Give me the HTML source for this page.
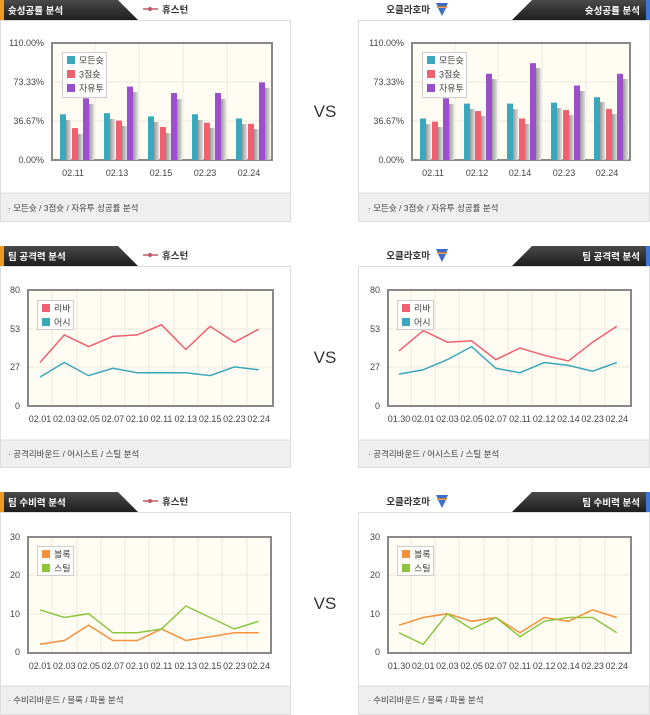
<!DOCTYPE html>
<html><head><meta charset="utf-8"><style>
html,body{margin:0;padding:0;background:#fff;}
svg{display:block;font-family:"Liberation Sans","Noto Sans CJK KR",sans-serif;}
.t{font-size:9px;fill:#444;}
.h{font-size:9.5px;fill:#fff;font-weight:bold;}
.n{font-size:9.5px;fill:#333;font-weight:bold;}
.f{font-size:8.5px;fill:#444;}
.vs{font-size:17px;fill:#333;}
.g{stroke:#ece8dc;stroke-width:1;}
</style></head><body>
<svg width="650" height="715" viewBox="0 0 650 715" xmlns="http://www.w3.org/2000/svg">
<defs>
<linearGradient id="hd" x1="0" y1="0" x2="0" y2="1"><stop offset="0" stop-color="#4a4a4a"/><stop offset="1" stop-color="#1e1e1e"/></linearGradient>
<linearGradient id="sh" x1="0" y1="0" x2="1" y2="0"><stop offset="0" stop-color="#999"/><stop offset="1" stop-color="#e0e0e0"/></linearGradient>
<g id="hleft"><polygon points="0,0 118,0 138,20 0,20" fill="url(#hd)"/><rect x="0" y="0" width="4" height="20" fill="#f29a1f"/></g>
<g id="hright"><polygon points="532,0 650,0 650,20 512,20" fill="url(#hd)"/><rect x="646" y="0" width="4" height="20" fill="#3a78d8"/></g>
<g id="hou"><line x1="143" y1="9" x2="158" y2="9" stroke="#c4546a" stroke-width="1.5"/><circle cx="150" cy="9" r="2" fill="#c4546a"/><text x="162" y="13" class="n">휴스턴</text></g>
<g id="okc"><text x="430" y="13" class="n" text-anchor="end">오클라호마</text><path d="M436,3 l12,0 l-2,4 l-8,0 z M438,8 l8,0 l-4,8 z" fill="#3a6fc8"/><path d="M437,7 l10,0" stroke="#e87a2a" stroke-width="1.5"/></g>
</defs>

<!-- ============ PANEL ROW 1 ============ -->
<use href="#hleft" x="0" y="0"/><text x="8" y="14" class="h">슛성공률 분석</text>
<use href="#hou" x="0" y="0"/>
<rect x="0.5" y="20.5" width="290" height="201" fill="#fff" stroke="#ddd"/>
<rect x="1" y="193" width="289" height="28" fill="#efefef"/><line x1="1" y1="193" x2="290" y2="193" stroke="#ddd"/>
<text x="8" y="211" class="f">· 모든슛 / 3점슛 / 자유투 성공률 분석</text>
<rect x="52" y="43" width="220" height="117" fill="#fffcf3" stroke="#888" stroke-width="2"/>
<g class="g"><line x1="95" y1="44" x2="95" y2="159"/><line x1="139" y1="44" x2="139" y2="159"/><line x1="183" y1="44" x2="183" y2="159"/><line x1="227" y1="44" x2="227" y2="159"/><line x1="53" y1="82" x2="271" y2="82"/><line x1="53" y1="121" x2="271" y2="121"/></g>
<text x="44" y="46" class="t" text-anchor="end">110.00%</text><text x="44" y="85" class="t" text-anchor="end">73.33%</text><text x="44" y="124" class="t" text-anchor="end">36.67%</text><text x="44" y="163" class="t" text-anchor="end">0.00%</text>
<g>
<rect x="66" y="120" width="5" height="40" fill="url(#sh)"/><rect x="60" y="114.3" width="6" height="45.7" fill="#3aa7bb"/>
<rect x="78" y="134" width="5" height="26" fill="url(#sh)"/><rect x="72" y="128.1" width="6" height="31.9" fill="#f0606e"/>
<rect x="89" y="104" width="5" height="56" fill="url(#sh)"/><rect x="83" y="98.3" width="6" height="61.7" fill="#9b4fcb"/>
<rect x="110" y="119" width="5" height="41" fill="url(#sh)"/><rect x="104" y="113.2" width="6" height="46.8" fill="#3aa7bb"/>
<rect x="122" y="126" width="5" height="34" fill="url(#sh)"/><rect x="116" y="120.6" width="6" height="39.4" fill="#f0606e"/>
<rect x="133" y="92" width="5" height="68" fill="url(#sh)"/><rect x="127" y="86.6" width="6" height="73.4" fill="#9b4fcb"/>
<rect x="154" y="122" width="5" height="38" fill="url(#sh)"/><rect x="148" y="116.4" width="6" height="43.6" fill="#3aa7bb"/>
<rect x="166" y="133" width="5" height="27" fill="url(#sh)"/><rect x="160" y="127" width="6" height="33" fill="#f0606e"/>
<rect x="177" y="99" width="5" height="61" fill="url(#sh)"/><rect x="171" y="93" width="6" height="67" fill="#9b4fcb"/>
<rect x="198" y="120" width="5" height="40" fill="url(#sh)"/><rect x="192" y="114.3" width="6" height="45.7" fill="#3aa7bb"/>
<rect x="210" y="128" width="5" height="32" fill="url(#sh)"/><rect x="204" y="122.8" width="6" height="37.2" fill="#f0606e"/>
<rect x="221" y="99" width="5" height="61" fill="url(#sh)"/><rect x="215" y="93" width="6" height="67" fill="#9b4fcb"/>
<rect x="242" y="124" width="5" height="36" fill="url(#sh)"/><rect x="236" y="118.5" width="6" height="41.5" fill="#3aa7bb"/>
<rect x="254" y="129" width="5" height="31" fill="url(#sh)"/><rect x="248" y="123.8" width="6" height="36.2" fill="#f0606e"/>
<rect x="265" y="88" width="5" height="72" fill="url(#sh)"/><rect x="259" y="82.4" width="6" height="77.6" fill="#9b4fcb"/>
</g>
<rect x="62.5" y="52.5" width="44" height="45" fill="#fff" fill-opacity="0.9" stroke="#ccc"/>
<rect x="67" y="56" width="8" height="8" fill="#3aa7bb"/><text x="79" y="63.5" class="t">모든슛</text>
<rect x="67" y="70" width="8" height="8" fill="#f0606e"/><text x="79" y="77.5" class="t">3점슛</text>
<rect x="67" y="84" width="8" height="8" fill="#9b4fcb"/><text x="79" y="91.5" class="t">자유투</text>
<text x="73" y="176" class="t" text-anchor="middle">02.11</text><text x="117" y="176" class="t" text-anchor="middle">02.13</text><text x="161" y="176" class="t" text-anchor="middle">02.15</text><text x="205" y="176" class="t" text-anchor="middle">02.23</text><text x="249" y="176" class="t" text-anchor="middle">02.24</text>

<text x="325" y="117" class="vs" text-anchor="middle">VS</text>

<use href="#hright" x="0" y="0"/><text x="640" y="14" class="h" text-anchor="end">슛성공률 분석</text>
<use href="#okc" x="0" y="0"/>
<rect x="358.5" y="20.5" width="291" height="201" fill="#fff" stroke="#ddd"/>
<rect x="359" y="193" width="290" height="28" fill="#efefef"/><line x1="359" y1="193" x2="649" y2="193" stroke="#ddd"/>
<text x="368" y="211" class="f">· 모든슛 / 3점슛 / 자유투 성공률 분석</text>
<rect x="412" y="43" width="218" height="117" fill="#fffcf3" stroke="#888" stroke-width="2"/>
<g class="g"><line x1="455" y1="44" x2="455" y2="159"/><line x1="498" y1="44" x2="498" y2="159"/><line x1="542" y1="44" x2="542" y2="159"/><line x1="586" y1="44" x2="586" y2="159"/><line x1="413" y1="82" x2="629" y2="82"/><line x1="413" y1="121" x2="629" y2="121"/></g>
<text x="404" y="46" class="t" text-anchor="end">110.00%</text><text x="404" y="85" class="t" text-anchor="end">73.33%</text><text x="404" y="124" class="t" text-anchor="end">36.67%</text><text x="404" y="163" class="t" text-anchor="end">0.00%</text>
<g>
<rect x="426" y="124" width="5" height="36" fill="url(#sh)"/><rect x="420" y="118.5" width="6" height="41.5" fill="#3aa7bb"/>
<rect x="438" y="127" width="5" height="33" fill="url(#sh)"/><rect x="432" y="121.7" width="6" height="38.3" fill="#f0606e"/>
<rect x="449" y="104" width="5" height="56" fill="url(#sh)"/><rect x="443" y="98.3" width="6" height="61.7" fill="#9b4fcb"/>
<rect x="470" y="109" width="5" height="51" fill="url(#sh)"/><rect x="464" y="103.6" width="6" height="56.4" fill="#3aa7bb"/>
<rect x="481" y="116" width="5" height="44" fill="url(#sh)"/><rect x="475" y="111.1" width="6" height="48.9" fill="#f0606e"/>
<rect x="492" y="79" width="5" height="81" fill="url(#sh)"/><rect x="486" y="73.8" width="6" height="86.2" fill="#9b4fcb"/>
<rect x="513" y="109" width="5" height="51" fill="url(#sh)"/><rect x="507" y="103.6" width="6" height="56.4" fill="#3aa7bb"/>
<rect x="525" y="124" width="5" height="36" fill="url(#sh)"/><rect x="519" y="118.5" width="6" height="41.5" fill="#f0606e"/>
<rect x="536" y="68" width="5" height="92" fill="url(#sh)"/><rect x="530" y="63.2" width="6" height="96.8" fill="#9b4fcb"/>
<rect x="557" y="108" width="5" height="52" fill="url(#sh)"/><rect x="551" y="102.6" width="6" height="57.4" fill="#3aa7bb"/>
<rect x="569" y="115" width="5" height="45" fill="url(#sh)"/><rect x="563" y="110" width="6" height="50" fill="#f0606e"/>
<rect x="580" y="91" width="5" height="69" fill="url(#sh)"/><rect x="574" y="85.5" width="6" height="74.5" fill="#9b4fcb"/>
<rect x="600" y="102" width="5" height="58" fill="url(#sh)"/><rect x="594" y="97.2" width="6" height="62.8" fill="#3aa7bb"/>
<rect x="612" y="114" width="5" height="46" fill="url(#sh)"/><rect x="606" y="108.9" width="6" height="51.1" fill="#f0606e"/>
<rect x="623" y="79" width="5" height="81" fill="url(#sh)"/><rect x="617" y="73.8" width="6" height="86.2" fill="#9b4fcb"/>
</g>
<rect x="422.5" y="52.5" width="44" height="45" fill="#fff" fill-opacity="0.9" stroke="#ccc"/>
<rect x="427" y="56" width="8" height="8" fill="#3aa7bb"/><text x="439" y="63.5" class="t">모든슛</text>
<rect x="427" y="70" width="8" height="8" fill="#f0606e"/><text x="439" y="77.5" class="t">3점슛</text>
<rect x="427" y="84" width="8" height="8" fill="#9b4fcb"/><text x="439" y="91.5" class="t">자유투</text>
<text x="433" y="176" class="t" text-anchor="middle">02.11</text><text x="477" y="176" class="t" text-anchor="middle">02.12</text><text x="520" y="176" class="t" text-anchor="middle">02.14</text><text x="564" y="176" class="t" text-anchor="middle">02.23</text><text x="607" y="176" class="t" text-anchor="middle">02.24</text>

<!-- ============ PANEL ROW 2 ============ -->
<g transform="translate(0,246)"><use href="#hleft"/><text x="8" y="14" class="h">팀 공격력 분석</text><use href="#hou"/><use href="#hright"/><text x="640" y="14" class="h" text-anchor="end">팀 공격력 분석</text><use href="#okc"/></g>
<rect x="0.5" y="266.5" width="290" height="201" fill="#fff" stroke="#ddd"/>
<rect x="1" y="440" width="289" height="27" fill="#efefef"/><line x1="1" y1="440" x2="290" y2="440" stroke="#ddd"/>
<text x="8" y="457" class="f">· 공격리바운드 / 어시스트 / 스틸 분석</text>
<rect x="358.5" y="266.5" width="291" height="201" fill="#fff" stroke="#ddd"/>
<rect x="359" y="440" width="290" height="27" fill="#efefef"/><line x1="359" y1="440" x2="649" y2="440" stroke="#ddd"/>
<text x="368" y="457" class="f">· 공격리바운드 / 어시스트 / 스틸 분석</text>
<text x="325" y="363" class="vs" text-anchor="middle">VS</text>

<rect x="28" y="290" width="245" height="116" fill="#fffcf3" stroke="#888" stroke-width="2"/>
<g class="g"><line x1="52" y1="291" x2="52" y2="405"/><line x1="77" y1="291" x2="77" y2="405"/><line x1="101" y1="291" x2="101" y2="405"/><line x1="125" y1="291" x2="125" y2="405"/><line x1="149" y1="291" x2="149" y2="405"/><line x1="174" y1="291" x2="174" y2="405"/><line x1="198" y1="291" x2="198" y2="405"/><line x1="222" y1="291" x2="222" y2="405"/><line x1="247" y1="291" x2="247" y2="405"/><line x1="29" y1="329" x2="272" y2="329"/><line x1="29" y1="367" x2="272" y2="367"/></g>
<text x="20" y="293" class="t" text-anchor="end">80</text><text x="20" y="332" class="t" text-anchor="end">53</text><text x="20" y="370" class="t" text-anchor="end">27</text><text x="20" y="409" class="t" text-anchor="end">0</text>
<polyline fill="none" stroke="#f0606e" stroke-width="1.5" points="40,362.5 64.3,334.9 88.6,346.6 112.9,336.4 137.2,334.9 161.5,324.8 185.8,349.5 210.1,326.3 234.4,342.2 258.7,329.2"/>
<polyline fill="none" stroke="#3aa7bb" stroke-width="1.5" points="40,377 64.3,362.5 88.6,375.6 112.9,368.3 137.2,372.7 161.5,372.7 185.8,372.7 210.1,375.6 234.4,366.9 258.7,369.8"/>
<rect x="37.5" y="300.5" width="36" height="29" fill="#fff" fill-opacity="0.9" stroke="#ccc"/>
<rect x="42" y="304" width="8" height="8" fill="#f0606e"/><text x="54" y="311.5" class="t">리바</text>
<rect x="42" y="318" width="8" height="8" fill="#3aa7bb"/><text x="54" y="325.5" class="t">어시</text>
<g class="t" text-anchor="middle"><text x="40" y="422">02.01</text><text x="64.3" y="422">02.03</text><text x="88.6" y="422">02.05</text><text x="112.9" y="422">02.07</text><text x="137.2" y="422">02.10</text><text x="161.5" y="422">02.11</text><text x="185.8" y="422">02.13</text><text x="210.1" y="422">02.15</text><text x="234.4" y="422">02.23</text><text x="258.7" y="422">02.24</text></g>

<rect x="388" y="290" width="243" height="116" fill="#fffcf3" stroke="#888" stroke-width="2"/>
<g class="g"><line x1="411" y1="291" x2="411" y2="405"/><line x1="435" y1="291" x2="435" y2="405"/><line x1="459" y1="291" x2="459" y2="405"/><line x1="484" y1="291" x2="484" y2="405"/><line x1="508" y1="291" x2="508" y2="405"/><line x1="532" y1="291" x2="532" y2="405"/><line x1="556" y1="291" x2="556" y2="405"/><line x1="580" y1="291" x2="580" y2="405"/><line x1="605" y1="291" x2="605" y2="405"/><line x1="389" y1="329" x2="630" y2="329"/><line x1="389" y1="367" x2="630" y2="367"/></g>
<text x="380" y="293" class="t" text-anchor="end">80</text><text x="380" y="332" class="t" text-anchor="end">53</text><text x="380" y="370" class="t" text-anchor="end">27</text><text x="380" y="409" class="t" text-anchor="end">0</text>
<polyline fill="none" stroke="#f0606e" stroke-width="1.5" points="399,350.9 423.2,330.6 447.4,342.2 471.6,340.8 495.8,359.6 520,348 544.2,355.3 568.4,361 592.6,342.2 616.8,326.3"/>
<polyline fill="none" stroke="#3aa7bb" stroke-width="1.5" points="399,374.1 423.2,369.8 447.4,359.6 471.6,346.6 495.8,368.3 520,372.7 544.2,362.5 568.4,365.4 592.6,371.2 616.8,362.5"/>
<rect x="397.5" y="300.5" width="36" height="29" fill="#fff" fill-opacity="0.9" stroke="#ccc"/>
<rect x="402" y="304" width="8" height="8" fill="#f0606e"/><text x="414" y="311.5" class="t">리바</text>
<rect x="402" y="318" width="8" height="8" fill="#3aa7bb"/><text x="414" y="325.5" class="t">어시</text>
<g class="t" text-anchor="middle"><text x="399" y="422">01.30</text><text x="423.2" y="422">02.01</text><text x="447.4" y="422">02.03</text><text x="471.6" y="422">02.05</text><text x="495.8" y="422">02.07</text><text x="520" y="422">02.11</text><text x="544.2" y="422">02.12</text><text x="568.4" y="422">02.14</text><text x="592.6" y="422">02.23</text><text x="616.8" y="422">02.24</text></g>

<!-- ============ PANEL ROW 3 ============ -->
<g transform="translate(0,492)"><use href="#hleft"/><text x="8" y="14" class="h">팀 수비력 분석</text><use href="#hou"/><use href="#hright"/><text x="640" y="14" class="h" text-anchor="end">팀 수비력 분석</text><use href="#okc"/></g>
<rect x="0.5" y="512.5" width="290" height="202" fill="#fff" stroke="#ddd"/>
<rect x="1" y="686" width="289" height="28" fill="#efefef"/><line x1="1" y1="686" x2="290" y2="686" stroke="#ddd"/>
<text x="8" y="703" class="f">· 수비리바운드 / 블록 / 파울 분석</text>
<rect x="358.5" y="512.5" width="291" height="202" fill="#fff" stroke="#ddd"/>
<rect x="359" y="686" width="290" height="28" fill="#efefef"/><line x1="359" y1="686" x2="649" y2="686" stroke="#ddd"/>
<text x="368" y="703" class="f">· 수비리바운드 / 블록 / 파울 분석</text>
<text x="325" y="609" class="vs" text-anchor="middle">VS</text>

<rect x="28" y="537" width="243" height="116" fill="#fffcf3" stroke="#888" stroke-width="2"/>
<g class="g"><line x1="52" y1="538" x2="52" y2="652"/><line x1="77" y1="538" x2="77" y2="652"/><line x1="101" y1="538" x2="101" y2="652"/><line x1="125" y1="538" x2="125" y2="652"/><line x1="149" y1="538" x2="149" y2="652"/><line x1="174" y1="538" x2="174" y2="652"/><line x1="198" y1="538" x2="198" y2="652"/><line x1="222" y1="538" x2="222" y2="652"/><line x1="247" y1="538" x2="247" y2="652"/><line x1="29" y1="575" x2="270" y2="575"/><line x1="29" y1="614" x2="270" y2="614"/></g>
<text x="20" y="540" class="t" text-anchor="end">30</text><text x="20" y="578" class="t" text-anchor="end">20</text><text x="20" y="617" class="t" text-anchor="end">10</text><text x="20" y="655" class="t" text-anchor="end">0</text>
<polyline fill="none" stroke="#f5913a" stroke-width="1.5" points="40,644.3 64.3,640.5 88.6,625.2 112.9,640.5 137.2,640.5 161.5,629 185.8,640.5 210.1,636.7 234.4,632.8 258.7,632.8"/>
<polyline fill="none" stroke="#8cc63f" stroke-width="1.5" points="40,609.8 64.3,617.5 88.6,613.7 112.9,632.8 137.2,632.8 161.5,629 185.8,606 210.1,617.5 234.4,629 258.7,621.3"/>
<rect x="37.5" y="546.5" width="36" height="29" fill="#fff" fill-opacity="0.9" stroke="#ccc"/>
<rect x="42" y="550" width="8" height="8" fill="#f5913a"/><text x="54" y="557.5" class="t">블록</text>
<rect x="42" y="564" width="8" height="8" fill="#8cc63f"/><text x="54" y="571.5" class="t">스틸</text>
<g class="t" text-anchor="middle"><text x="40" y="669">02.01</text><text x="64.3" y="669">02.03</text><text x="88.6" y="669">02.05</text><text x="112.9" y="669">02.07</text><text x="137.2" y="669">02.10</text><text x="161.5" y="669">02.11</text><text x="185.8" y="669">02.13</text><text x="210.1" y="669">02.15</text><text x="234.4" y="669">02.23</text><text x="258.7" y="669">02.24</text></g>

<rect x="388" y="537" width="243" height="116" fill="#fffcf3" stroke="#888" stroke-width="2"/>
<g class="g"><line x1="411" y1="538" x2="411" y2="652"/><line x1="435" y1="538" x2="435" y2="652"/><line x1="459" y1="538" x2="459" y2="652"/><line x1="484" y1="538" x2="484" y2="652"/><line x1="508" y1="538" x2="508" y2="652"/><line x1="532" y1="538" x2="532" y2="652"/><line x1="556" y1="538" x2="556" y2="652"/><line x1="580" y1="538" x2="580" y2="652"/><line x1="605" y1="538" x2="605" y2="652"/><line x1="389" y1="575" x2="630" y2="575"/><line x1="389" y1="614" x2="630" y2="614"/></g>
<text x="380" y="540" class="t" text-anchor="end">30</text><text x="380" y="578" class="t" text-anchor="end">20</text><text x="380" y="617" class="t" text-anchor="end">10</text><text x="380" y="655" class="t" text-anchor="end">0</text>
<polyline fill="none" stroke="#f5913a" stroke-width="1.5" points="399,625.2 423.2,617.5 447.4,613.7 471.6,621.3 495.8,617.5 520,632.8 544.2,617.5 568.4,621.3 592.6,609.8 616.8,617.5"/>
<polyline fill="none" stroke="#8cc63f" stroke-width="1.5" points="399,632.8 423.2,644.3 447.4,613.7 471.6,629 495.8,617.5 520,636.7 544.2,621.3 568.4,617.5 592.6,617.5 616.8,632.8"/>
<rect x="397.5" y="546.5" width="36" height="29" fill="#fff" fill-opacity="0.9" stroke="#ccc"/>
<rect x="402" y="550" width="8" height="8" fill="#f5913a"/><text x="414" y="557.5" class="t">블록</text>
<rect x="402" y="564" width="8" height="8" fill="#8cc63f"/><text x="414" y="571.5" class="t">스틸</text>
<g class="t" text-anchor="middle"><text x="399" y="669">01.30</text><text x="423.2" y="669">02.01</text><text x="447.4" y="669">02.03</text><text x="471.6" y="669">02.05</text><text x="495.8" y="669">02.07</text><text x="520" y="669">02.11</text><text x="544.2" y="669">02.12</text><text x="568.4" y="669">02.14</text><text x="592.6" y="669">02.23</text><text x="616.8" y="669">02.24</text></g>
</svg>
</body></html>
